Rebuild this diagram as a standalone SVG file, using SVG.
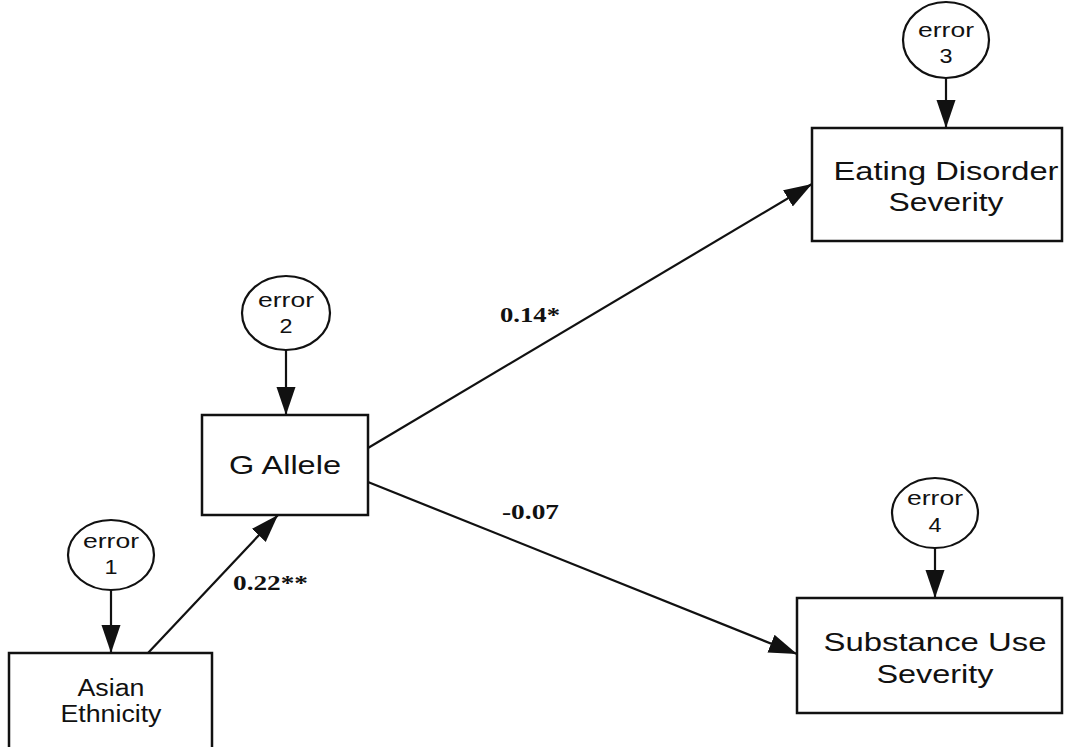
<svg xmlns="http://www.w3.org/2000/svg" width="1071" height="747" viewBox="0 0 1071 747">
  <style>
    .box { fill: #fff; stroke: #111; stroke-width: 2.5; }
    .err { fill: #fff; stroke: #111; stroke-width: 2.2; }
    .lbl { font-family: "Liberation Sans", Arial, sans-serif; fill: #111; text-anchor: middle; }
    .coef { font-family: "Liberation Serif", "Times New Roman", serif; font-weight: bold; font-size: 22px; fill: #111; }
    .path { stroke: #111; stroke-width: 2.2; fill: none; marker-end: url(#arrow); }
  </style>
  <defs>
    <marker id="arrow" markerUnits="userSpaceOnUse" markerWidth="30" markerHeight="20" refX="28" refY="9.5" orient="auto">
      <path d="M0,0 L28,9.5 L0,19 z" fill="#111"/>
    </marker>
  </defs>

  <rect width="1071" height="747" fill="#fff"/>

  <!-- connectors -->
  <g id="connectors">
    <line class="path" x1="111" y1="590" x2="111" y2="653"/>
    <line class="path" x1="286" y1="350" x2="286" y2="415"/>
    <line class="path" x1="946" y1="78" x2="946" y2="128"/>
    <line class="path" x1="935" y1="548" x2="935" y2="598"/>
    <line class="path" x1="148" y1="653" x2="278" y2="515"/>
    <line class="path" x1="368" y1="448" x2="812" y2="184"/>
    <line class="path" x1="368" y1="482" x2="797" y2="654"/>
    <text class="coef" x="233" y="590" textLength="75" lengthAdjust="spacingAndGlyphs">0.22**</text>
    <text class="coef" x="500" y="322" textLength="60" lengthAdjust="spacingAndGlyphs">0.14*</text>
    <text class="coef" x="502" y="519" textLength="57" lengthAdjust="spacingAndGlyphs">-0.07</text>
  </g>

  <!-- observed variables -->
  <g id="asian-ethnicity">
    <rect class="box" x="9" y="653" width="203" height="110"/>
    <text class="lbl" x="111" y="696" font-size="23" textLength="67" lengthAdjust="spacingAndGlyphs">Asian</text>
    <text class="lbl" x="111" y="722" font-size="23" textLength="101" lengthAdjust="spacingAndGlyphs">Ethnicity</text>
  </g>
  <g id="g-allele">
    <rect class="box" x="202" y="415" width="166" height="100"/>
    <text class="lbl" x="285" y="474" font-size="25" textLength="112" lengthAdjust="spacingAndGlyphs">G Allele</text>
  </g>
  <g id="eating-disorder">
    <rect class="box" x="812" y="128" width="250" height="113"/>
    <text class="lbl" x="946" y="180" font-size="26" textLength="225" lengthAdjust="spacingAndGlyphs">Eating Disorder</text>
    <text class="lbl" x="946" y="211" font-size="26" textLength="115" lengthAdjust="spacingAndGlyphs">Severity</text>
  </g>
  <g id="substance-use">
    <rect class="box" x="797" y="598" width="265" height="115"/>
    <text class="lbl" x="935" y="651" font-size="26" textLength="223" lengthAdjust="spacingAndGlyphs">Substance Use</text>
    <text class="lbl" x="935" y="683" font-size="26" textLength="117" lengthAdjust="spacingAndGlyphs">Severity</text>
  </g>

  <!-- error terms -->
  <g id="error1">
    <ellipse class="err" cx="111" cy="555" rx="43" ry="35"/>
    <text class="lbl" x="111" y="548" font-size="20" textLength="56" lengthAdjust="spacingAndGlyphs">error</text>
    <text class="lbl" x="111" y="574" font-size="20" textLength="13" lengthAdjust="spacingAndGlyphs">1</text>
  </g>
  <g id="error2">
    <ellipse class="err" cx="286" cy="313" rx="44" ry="37"/>
    <text class="lbl" x="286" y="307" font-size="20" textLength="56" lengthAdjust="spacingAndGlyphs">error</text>
    <text class="lbl" x="286" y="333" font-size="20" textLength="13" lengthAdjust="spacingAndGlyphs">2</text>
  </g>
  <g id="error3">
    <ellipse class="err" cx="946" cy="40" rx="43" ry="38"/>
    <text class="lbl" x="946" y="37" font-size="20" textLength="56" lengthAdjust="spacingAndGlyphs">error</text>
    <text class="lbl" x="946" y="63" font-size="20" textLength="13" lengthAdjust="spacingAndGlyphs">3</text>
  </g>
  <g id="error4">
    <ellipse class="err" cx="935" cy="513" rx="43" ry="35"/>
    <text class="lbl" x="935" y="505" font-size="20" textLength="56" lengthAdjust="spacingAndGlyphs">error</text>
    <text class="lbl" x="935" y="532" font-size="20" textLength="13" lengthAdjust="spacingAndGlyphs">4</text>
  </g>
</svg>
